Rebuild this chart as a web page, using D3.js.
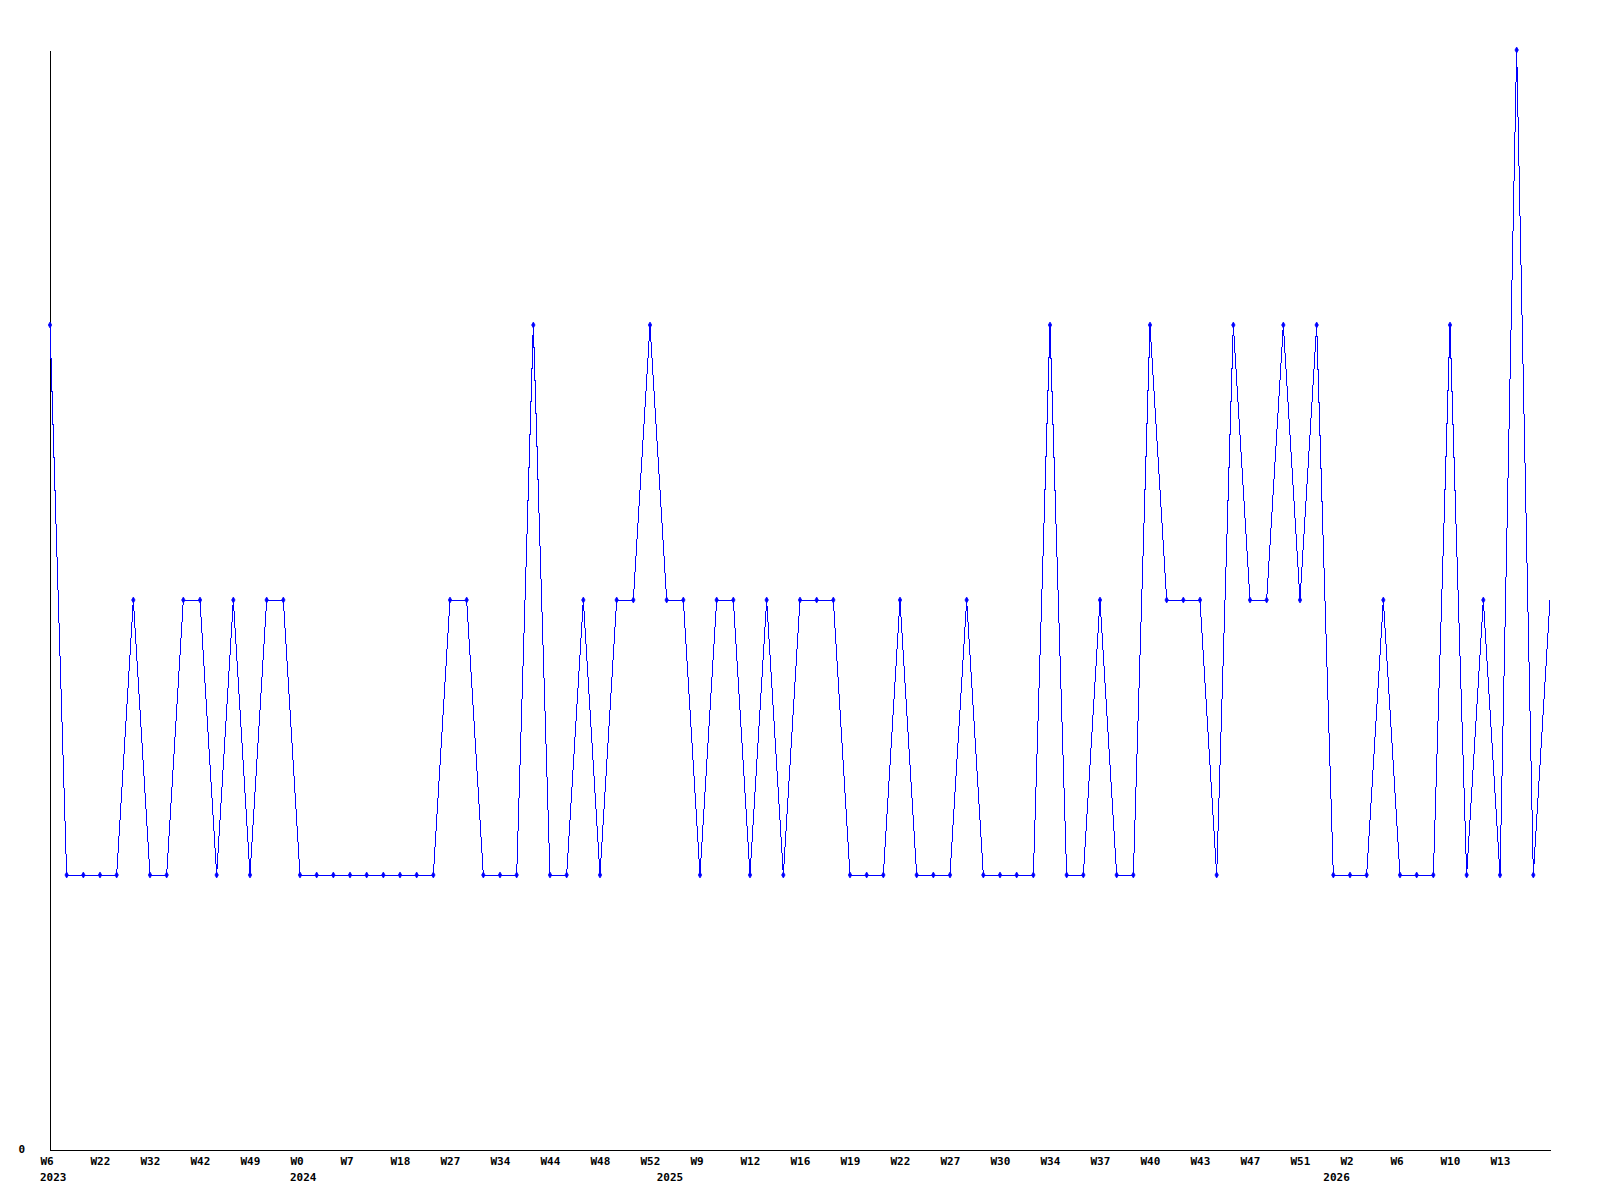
<!DOCTYPE html>
<html>
<head>
<meta charset="utf-8">
<script src="https://cdn.jsdelivr.net/npm/d3@7"></script>
<style>
  body { margin: 0; background: #fff; }
  .axis text { font-family: "DejaVu Sans Mono", monospace; font-weight: bold; font-size: 11px; fill: #000; }
  .axis path { stroke: #000; }
</style>
</head>
<body>
<div id="chart"></div>
<script>
// weekly counts, one entry per data point
var values = [3, 1, 1, 1, 1, 2, 1, 1, 2, 2, 1, 2, 1, 2, 2, 1, 1, 1, 1, 1,
              1, 1, 1, 1, 2, 2, 1, 1, 1, 3, 1, 1, 2, 1, 2, 2, 3, 2, 2, 1,
              2, 2, 1, 2, 1, 2, 2, 2, 1, 1, 1, 2, 1, 1, 1, 2, 1, 1, 1, 1,
              3, 1, 1, 2, 1, 1, 3, 2, 2, 2, 1, 3, 2, 2, 3, 2, 3, 1, 1, 1,
              2, 1, 1, 1, 3, 1, 2, 1, 4, 1, 2];

// labelled points (every third point)
var weekLabels = ["W6", "W22", "W32", "W42", "W49", "W0", "W7", "W18", "W27", "W34",
                  "W44", "W48", "W52", "W9", "W12", "W16", "W19", "W22", "W27", "W30",
                  "W34", "W37", "W40", "W43", "W47", "W51", "W2", "W6", "W10", "W13"];
var labelEvery = 3;

// year labels and the point index where each year starts
var years = ["2023", "2024", "2025", "2026"];
var yearStart = [0, 15, 37, 77];

var yMax = 4;

var width = 1600, height = 1200;
var margin = {top: 50, right: 50, bottom: 50, left: 50};

var svg = d3.select("#chart").append("svg")
    .attr("width", width)
    .attr("height", height);

var xScale = d3.scalePoint()
    .domain(d3.range(values.length))
    .range([margin.left, width - margin.right]);

var yScale = d3.scaleLinear()
    .domain([0, yMax])
    .range([height - margin.bottom, margin.top]);

var tickIdx = weekLabels.map(function(d, i) { return i * labelEvery; });

// x axis with week labels
var xAxis = d3.axisBottom(xScale)
    .tickValues(tickIdx)
    .tickSize(0)
    .tickFormat(function(d) { return weekLabels[d / labelEvery]; });

var gx = svg.append("g")
    .attr("class", "axis x")
    .attr("transform", "translate(0," + (height - margin.bottom) + ")")
    .call(xAxis);
gx.select(".domain").attr("shape-rendering", "crispEdges");
gx.selectAll(".tick text")
    .attr("dy", null)
    .attr("y", 15)
    .attr("x", -10)
    .style("text-anchor", "start");

// year labels under the week labels
gx.selectAll(".year")
    .data(years)
    .enter()
  .append("text")
    .attr("class", "year")
    .attr("x", function(d, i) { return xScale(yearStart[i]) - 10; })
    .attr("y", 31)
    .style("text-anchor", "start")
    .text(function(d) { return d; });

// y axis, only the zero label
var yAxis = d3.axisLeft(yScale)
    .tickValues([0])
    .tickFormat(d3.format("d"))
    .tickSize(0)
    .tickPadding(25);

var gy = svg.append("g")
    .attr("class", "axis y")
    .attr("transform", "translate(" + margin.left + ",0)")
    .call(yAxis);
gy.select(".domain").attr("shape-rendering", "crispEdges");
gy.selectAll(".tick text").attr("dy", "0.2em");

// line
var line = d3.line()
    .x(function(d, i) { return xScale(i); })
    .y(function(d) { return yScale(d); });

svg.append("path")
    .datum(values)
    .attr("fill", "none")
    .attr("stroke", "#0000ff")
    .attr("stroke-width", 1)
    .attr("shape-rendering", "crispEdges")
    .attr("d", line);

// point markers
svg.selectAll(".pt")
    .data(values.slice(0, values.length - 1))
    .enter()
  .append("path")
    .attr("class", "pt")
    .attr("transform", function(d, i) { return "translate(" + xScale(i) + "," + yScale(d) + ")"; })
    .attr("d", d3.symbol().type(d3.symbolDiamond).size(10))
    .attr("fill", "#0000ff")
    .attr("stroke", "#0000ff")
    .attr("stroke-width", 0.8);
</script>
</body>
</html>
